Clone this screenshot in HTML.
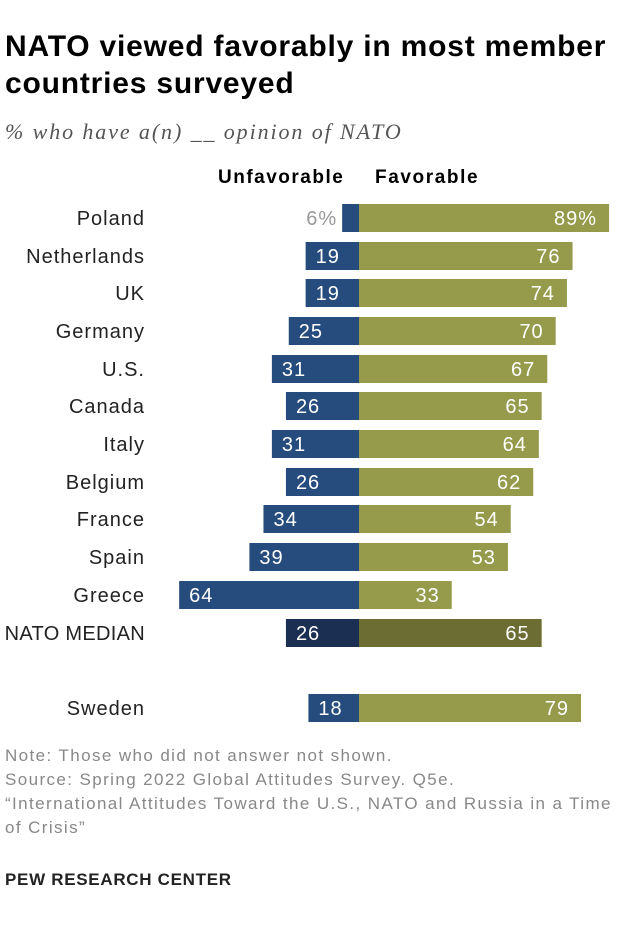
<!DOCTYPE html>
<html><head><meta charset="utf-8">
<style>
body{margin:0;background:#fff;font-family:"Liberation Sans",sans-serif;}
#wrap{position:relative;width:620px;height:926px;overflow:hidden;}
.t{position:absolute;white-space:nowrap;}
</style></head>
<body>
<div id="wrap">
<div class="t" style="left:5px;top:28px;font-size:30px;font-weight:bold;line-height:37px;color:#000;letter-spacing:0.8px">NATO viewed favorably in most member<br>countries surveyed</div>
<div class="t" style="left:5px;top:119px;font-size:22px;font-style:italic;font-family:'Liberation Serif',serif;color:#555;letter-spacing:1.9px">% who have a(n) __ opinion of NATO</div>
<div class="t" style="left:218px;top:167px;font-size:19px;font-weight:bold;letter-spacing:1.5px">Unfavorable</div>
<div class="t" style="left:375px;top:167px;font-size:19px;font-weight:bold;letter-spacing:1.6px">Favorable</div>
<svg id="chart" width="620" height="740" style="position:absolute;left:0;top:0"></svg>
<div class="t" style="left:5px;top:744px;font-size:17px;color:#888;line-height:24px;letter-spacing:1.4px">Note: Those who did not answer not shown.<br>Source: Spring 2022 Global Attitudes Survey. Q5e.<br>“International Attitudes Toward the U.S., NATO and Russia in a Time<br>of Crisis”</div>
<div class="t" style="left:5px;top:870px;font-size:17px;font-weight:bold;color:#222;letter-spacing:0.7px">PEW RESEARCH CENTER</div>
</div>
<script>
const countries=["Poland","Netherlands","UK","Germany","U.S.","Canada","Italy","Belgium","France","Spain","Greece","NATO MEDIAN","Sweden"];
const unfavorable=[6,19,19,25,31,26,31,26,34,39,64,26,18];
const favorable=[89,76,74,70,67,65,64,62,54,53,33,65,79];
const rowY=[218,256,293,331,369,406,444,482,519,557,595,633,708];
const svg=document.getElementById('chart');
const NS='http://www.w3.org/2000/svg';
const x0=359,k=2.81,bh=28;
function xs(v){return v*k;}
function mk(tag,attrs){const e=document.createElementNS(NS,tag);for(const a in attrs)e.setAttribute(a,attrs[a]);svg.appendChild(e);return e;}
countries.forEach((c,i)=>{
  const y=rowY[i];const med=c==="NATO MEDIAN";
  const lab=mk('text',{x:145,y:y+7,'text-anchor':'end','font-size':20,'letter-spacing':med?0.3:1,fill:'#222','font-family':'Liberation Sans, sans-serif'});
  lab.textContent=c;
  
  
  const u=mk('rect',{x:x0-xs(unfavorable[i]),y:y-bh/2,width:xs(unfavorable[i]),height:bh,fill:med?'#1b2f52':'#264b7d'});
  
  
  const f=mk('rect',{x:x0,y:y-bh/2,width:xs(favorable[i]),height:bh,fill:med?'#6b6d33':'#959b4b'});
  
  
  const first=i===0;
  let ut;
  if(unfavorable[i]<10){
    ut=mk('text',{x:x0-xs(unfavorable[i])-5,y:y+7,'text-anchor':'end','font-size':20,'letter-spacing':1,fill:'#999','font-family':'Liberation Sans, sans-serif'});
  } else {
    ut=mk('text',{x:x0-xs(unfavorable[i])+10,y:y+7,'text-anchor':'start','font-size':20,'letter-spacing':1,fill:'#fff','font-family':'Liberation Sans, sans-serif'});
  }
  ut.textContent=unfavorable[i]+(first?'%':'');
  
  
  const ft=mk('text',{x:x0+xs(favorable[i])-12,y:y+7,'text-anchor':'end','font-size':20,'letter-spacing':1,fill:'#fff','font-family':'Liberation Sans, sans-serif'});
  ft.textContent=favorable[i]+(first?'%':'');
  
  
});
</script>
</body></html>
